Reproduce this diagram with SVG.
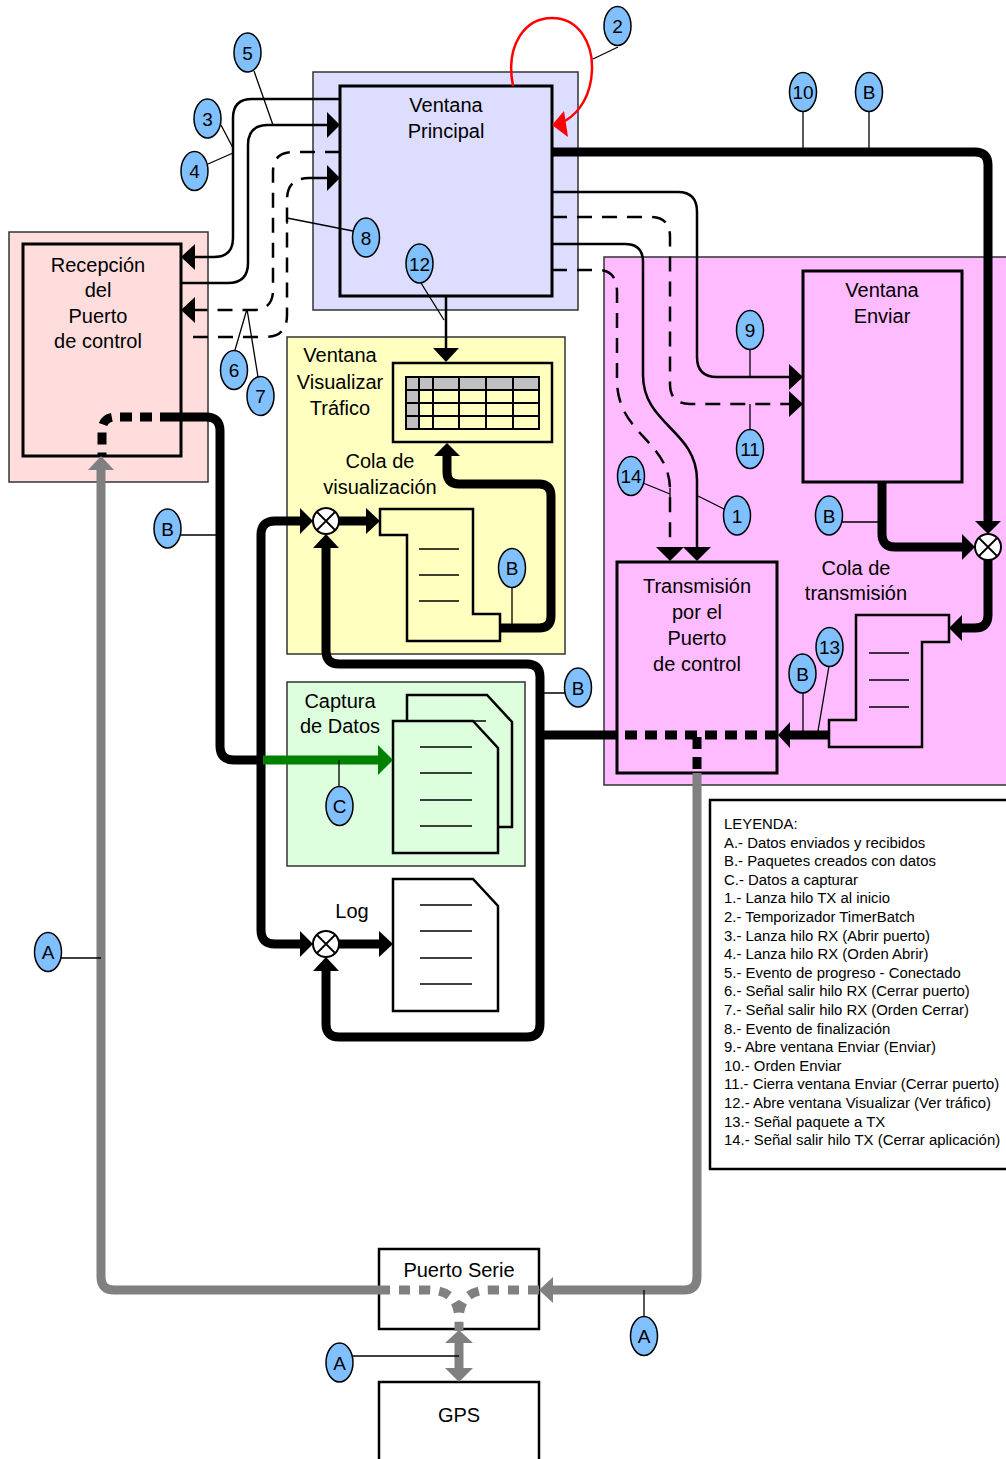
<svg xmlns="http://www.w3.org/2000/svg" width="1006" height="1459" viewBox="0 0 1006 1459">
<style>
text{font-family:"Liberation Sans",Arial,sans-serif;fill:#000}
.lbl{font-size:20px;text-anchor:middle}
.co{fill:#80c0ff;stroke:#000;stroke-width:1.5}
.cot{font-size:19px;text-anchor:middle}
.lead{stroke:#000;stroke-width:1.3;fill:none}
.cont{stroke:#333;stroke-width:1.5}
.box{stroke:#000;stroke-width:3}
.thin{stroke:#000;stroke-width:2.5;fill:none}
.dash{stroke:#000;stroke-width:2.5;fill:none;stroke-dasharray:15 10}
.thick{stroke:#000;stroke-width:9;fill:none}
.dot{stroke:#000;stroke-width:9;fill:none;stroke-dasharray:12 8}
.gray{stroke:#808080;stroke-width:9;fill:none}
.gdot{stroke:#808080;stroke-width:9;fill:none;stroke-dasharray:11 9}
.ah{fill:#000}
.gah{fill:#808080}
.leg{font-size:14.9px}
.doc path{stroke:#000;stroke-width:2.5}
.doc line{stroke:#000;stroke-width:1.5}
</style>
<defs>
<g id="xor"><circle r="13" fill="#fff" stroke="#000" stroke-width="2"/><path d="M-9,-9 L9,9 M-9,9 L9,-9" stroke="#000" stroke-width="1.8"/></g>
<g id="doc" class="doc"><path d="M0,0 L80,0 L105,27 L105,132 L0,132 Z"/><line x1="27" y1="26" x2="79" y2="26"/><line x1="27" y1="52" x2="79" y2="52"/><line x1="27" y1="79" x2="79" y2="79"/><line x1="27" y1="105" x2="79" y2="105"/></g>
</defs>

<!-- containers -->
<g id="cont-principal"><rect x="313" y="72" width="265" height="238" fill="#ddddff" class="cont"/></g>
<g id="cont-recepcion"><rect x="9" y="232" width="199" height="250" fill="#ffdddd" class="cont"/></g>
<g id="cont-visualizar"><rect x="287" y="337" width="278" height="317" fill="#ffffc0" class="cont"/></g>
<g id="cont-captura"><rect x="287" y="682" width="238" height="184" fill="#ddffdd" class="cont"/></g>
<g id="cont-transmision"><rect x="604" y="257" width="410" height="528" fill="#ffbbff" class="cont"/></g>

<!-- nodes -->
<g id="ventana-principal"><rect x="340" y="86" width="212" height="210" fill="#ddddff" class="box"/>
<text class="lbl" x="446" y="112">Ventana</text><text class="lbl" x="446" y="138">Principal</text></g>

<g id="recepcion"><rect x="23" y="244" width="158" height="212" fill="#ffdddd" class="box"/>
<text class="lbl" x="98" y="272">Recepción</text><text class="lbl" x="98" y="297">del</text><text class="lbl" x="98" y="323">Puerto</text><text class="lbl" x="98" y="348">de control</text></g>

<g id="ventana-visualizar"><text class="lbl" x="340" y="362">Ventana</text><text class="lbl" x="340" y="389">Visualizar</text><text class="lbl" x="340" y="415">Tráfico</text>
<rect x="393" y="363" width="159" height="79" fill="#ffffc0" stroke="#000" stroke-width="2.5"/>
<rect x="406" y="377" width="133" height="13" fill="#c0c0c0"/><rect x="406" y="390" width="13" height="39" fill="#c0c0c0"/>
<g stroke="#000" stroke-width="2" fill="none"><rect x="406" y="377" width="133" height="52"/>
<path d="M406,390 H539 M406,403 H539 M406,416 H539 M419,377 V429 M433,377 V429 M459,377 V429 M486,377 V429 M513,377 V429"/></g></g>

<g id="cola-visualizacion"><text class="lbl" x="380" y="468">Cola de</text><text class="lbl" x="380" y="494">visualización</text>
<path d="M380,509 L473,509 L473,614 L500,614 L500,641 L407,641 L407,535 L380,535 Z" fill="#ffffc0" stroke="#000" stroke-width="2.5"/>
<path d="M419,549 H459 M419,575 H459 M419,601 H459" stroke="#000" stroke-width="1.5"/></g>

<g id="captura"><text class="lbl" x="340" y="708">Captura</text><text class="lbl" x="340" y="733">de Datos</text>
<use href="#doc" x="407" y="695" fill="#ddffdd"/><use href="#doc" x="393" y="721" fill="#ddffdd"/></g>

<g id="log"><text class="lbl" x="352" y="918">Log</text><use href="#doc" x="393" y="879" fill="#fff"/></g>

<g id="ventana-enviar"><rect x="803" y="271" width="159" height="211" fill="#ffbbff" class="box"/>
<text class="lbl" x="882" y="297">Ventana</text><text class="lbl" x="882" y="323">Enviar</text></g>

<g id="cola-transmision"><text class="lbl" x="856" y="575">Cola de</text><text class="lbl" x="856" y="600">transmisión</text>
<path d="M856,615 L949,615 L949,642 L922,642 L922,747 L829,747 L829,720 L856,720 Z" fill="#ffbbff" stroke="#000" stroke-width="2.5"/>
<path d="M869,653 H909 M869,680 H909 M869,707 H909" stroke="#000" stroke-width="1.5"/></g>

<g id="transmision"><rect x="617" y="562" width="160" height="211" fill="#ffbbff" class="box"/>
<text class="lbl" x="697" y="593">Transmisión</text><text class="lbl" x="697" y="619">por el</text><text class="lbl" x="697" y="645">Puerto</text><text class="lbl" x="697" y="671">de control</text></g>

<g id="puerto-serie"><rect x="379" y="1249" width="160" height="80" fill="#fff" stroke="#000" stroke-width="2.5"/>
<text class="lbl" x="459" y="1277">Puerto Serie</text></g>

<g id="gps"><rect x="379" y="1382" width="160" height="90" fill="#fff" stroke="#000" stroke-width="2.5"/>
<text class="lbl" x="459" y="1422">GPS</text></g>

<g id="leyenda"><rect x="710" y="800" width="310" height="369" fill="#fff" stroke="#000" stroke-width="2.5"/>
<text class="leg" x="724" y="829">LEYENDA:<tspan x="724" dy="18.6">A.- Datos enviados y recibidos</tspan><tspan x="724" dy="18.6">B.- Paquetes creados con datos</tspan><tspan x="724" dy="18.6">C.- Datos a capturar</tspan><tspan x="724" dy="18.6">1.- Lanza hilo TX al inicio</tspan><tspan x="724" dy="18.6">2.- Temporizador TimerBatch</tspan><tspan x="724" dy="18.6">3.- Lanza hilo RX (Abrir puerto)</tspan><tspan x="724" dy="18.6">4.- Lanza hilo RX (Orden Abrir)</tspan><tspan x="724" dy="18.6">5.- Evento de progreso - Conectado</tspan><tspan x="724" dy="18.6">6.- Señal salir hilo RX (Cerrar puerto)</tspan><tspan x="724" dy="18.6">7.- Señal salir hilo RX (Orden Cerrar)</tspan><tspan x="724" dy="18.6">8.- Evento de finalización</tspan><tspan x="724" dy="18.6">9.- Abre ventana Enviar (Enviar)</tspan><tspan x="724" dy="18.6">10.- Orden Enviar</tspan><tspan x="724" dy="18.6">11.- Cierra ventana Enviar (Cerrar puerto)</tspan><tspan x="724" dy="18.6">12.- Abre ventana Visualizar (Ver tráfico)</tspan><tspan x="724" dy="18.6">13.- Señal paquete a TX</tspan><tspan x="724" dy="18.6">14.- Señal salir hilo TX (Cerrar aplicación)</tspan></text></g>

<!-- connectors -->
<g id="connectors">
<path class="gray" d="M379,1290 L114,1290 Q101,1290 101,1277 L101,469"/>
<polygon class="gah" points="101,456 88,470 114,470"/>
<path class="gray" d="M697,773 L697,1277 Q697,1290 684,1290 L552,1290"/>
<polygon class="gah" points="539,1290 553,1277 553,1303"/>
<path class="gdot" d="M379,1290 L428,1290 Q459,1290 459,1320 L459,1331 M539,1290 L490,1290 Q459,1290 459,1320"/>
<path class="gray" d="M459,1342 L459,1369"/>
<polygon class="gah" points="459,1330 445,1343 473,1343"/>
<polygon class="gah" points="459,1382 445,1368 473,1368"/>

<path class="thin" d="M340,99 L252,99 Q233,99 233,118 L233,238 Q233,257 214,257 L194,257"/>
<polygon class="ah" points="181,257 195,244 195,270"/>
<path class="thin" d="M181,283 L228,283 Q248,283 248,263 L248,145 Q248,125 268,125 L328,125"/>
<polygon class="ah" points="340,125 327,112 327,138"/>
<path class="dash" d="M340,152 L293,152 Q273,152 273,172 L273,290 Q273,310 253,310 L195,310"/>
<polygon class="ah" points="181,310 195,297 195,323"/>
<path class="dash" d="M193,337 L265,337 Q287,337 287,315 L287,200 Q287,178 309,178 L313,178"/>
<path class="thin" d="M313,178 L328,178"/>
<polygon class="ah" points="340,178 327,165 327,191"/>
<path d="M513,86 C505,45 525,18 552,18 C580,18 593,45 592,70 C591,95 580,112 565,121" fill="none" stroke="#f00" stroke-width="2.5"/>
<polygon points="552,125 564,111 568,137" fill="#f00"/>
<path class="thin" d="M446,297 L446,349"/>
<polygon class="ah" points="446,362 433,348 459,348"/>
<path class="thick" d="M552,152 L975,152 Q988,152 988,165 L988,522"/>
<polygon class="ah" points="988,534 975,521 1001,521"/>
<path class="thin" d="M552,192 L678,192 Q697,192 697,212 L697,357 Q697,377 717,377 L790,377"/>
<polygon class="ah" points="803,377 789,364 789,390"/>
<path class="dash" d="M552,217 L651,217 Q670,217 670,237 L670,384 Q670,404 690,404 L790,404"/>
<polygon class="ah" points="803,404 789,391 789,417"/>
<path class="thin" d="M552,244 L625,244 Q643,244 643,262 L643,375 C643,425 697,430 697,480 L697,548"/>
<polygon class="ah" points="697,561 683,547 711,547"/>
<path class="dash" d="M552,270 L598,270 Q617,270 617,292 L617,380 C617,435 670,440 670,490 L670,548"/>
<polygon class="ah" points="670,561 656,547 684,547"/>
<path class="thick" d="M882,482 L882,534 Q882,547 895,547 L963,547"/>
<polygon class="ah" points="975,547 962,534 962,560"/>
<use href="#xor" x="988" y="547"/>
<path class="thick" d="M988,560 L988,615 Q988,628 975,628 L961,628"/>
<polygon class="ah" points="949,628 962,615 962,641"/>
<path class="thick" d="M829,735 L789,735"/>
<polygon class="ah" points="778,735 790,722 790,748"/>
<path class="dot" d="M777,735 L617,735 M697,737 L697,773"/>
<path class="thick" d="M617,735 L540,735"/>
<path class="thick" d="M540,735 L540,677 Q540,664 527,664 L339,664 Q326,664 326,651 L326,547"/>
<polygon class="ah" points="326,534 313,548 339,548"/>
<path class="thick" d="M540,735 L540,1024 Q540,1037 527,1037 L339,1037 Q326,1037 326,1024 L326,970"/>
<polygon class="ah" points="326,957 313,971 339,971"/>
<path class="dot" d="M172,417 L116,417 Q102,417 102,431 L102,456"/>
<path class="thick" d="M172,417 L206,417 Q220,417 220,431 L220,746 Q220,760 234,760 L265,760"/>
<path class="thick" d="M301,521 L275,521 Q261,521 261,535 L261,930 Q261,944 275,944 L301,944"/>
<polygon class="ah" points="313,521 300,508 300,534"/>
<polygon class="ah" points="313,944 300,931 300,957"/>
<path d="M263,760 L380,760" stroke="#008000" stroke-width="9" fill="none"/>
<polygon points="393,760 378,745 378,775" fill="#008000"/>
<use href="#xor" x="326" y="521"/>
<path class="thick" d="M339,521 L367,521"/>
<polygon class="ah" points="380,521 366,508 366,534"/>
<use href="#xor" x="326" y="944"/>
<path class="thick" d="M339,944 L380,944"/>
<polygon class="ah" points="393,944 379,931 379,957"/>
<path class="thick" d="M500,628 L539,628 Q551,628 551,616 L551,496 Q551,484 539,484 L459,484 Q447,484 447,472 L447,455"/>
<polygon class="ah" points="447,443 434,456 460,456"/>
</g>

<!-- callouts -->
<g id="callouts">
<path class="lead" d="M254,71 L273,125 M221,125 L233,148 M208,164 L233,153 M287,213 L287,224 M287,218 L353,231 M593,59 L618,47 M421,283 L444,320 M247,309 L235,350 M247,309 L258,377 M803,111 L803,151 M869,111 L869,151 M750,349 L750,377 M750,404 L750,430 M643,483 L670,494 M670,488 L670,500 M698,496 L724,509 M842,522 L882,522 M181,535 L220,535 M512,587 L512,627 M829,666 L818,731 M803,693 L803,731 M543,693 L565,693 M339,760 L339,787 M61,958 L101,958 M644,1290 L644,1317 M353,1356 L459,1356"/>
<g id="c5"><ellipse class="co" cx="247.5" cy="52.5" rx="13.5" ry="19.5"/><text class="cot" x="247.5" y="59.5">5</text></g>
<g id="c3"><ellipse class="co" cx="207.5" cy="118.5" rx="13.5" ry="19.5"/><text class="cot" x="207.5" y="125.5">3</text></g>
<g id="c4"><ellipse class="co" cx="194.5" cy="171" rx="13.5" ry="19.5"/><text class="cot" x="194.5" y="178">4</text></g>
<g id="c2"><ellipse class="co" cx="617.5" cy="26" rx="13.5" ry="19.5"/><text class="cot" x="617.5" y="33">2</text></g>
<g id="c8"><ellipse class="co" cx="366" cy="237.5" rx="13.5" ry="19.5"/><text class="cot" x="366" y="244.5">8</text></g>
<g id="c12"><ellipse class="co" cx="419.5" cy="263.5" rx="13.5" ry="19.5"/><text class="cot" x="419.5" y="270.5">12</text></g>
<g id="c6"><ellipse class="co" cx="234" cy="370" rx="13.5" ry="19.5"/><text class="cot" x="234" y="377">6</text></g>
<g id="c7"><ellipse class="co" cx="260.5" cy="396" rx="13.5" ry="19.5"/><text class="cot" x="260.5" y="403">7</text></g>
<g id="c10"><ellipse class="co" cx="803" cy="92" rx="13.5" ry="19.5"/><text class="cot" x="803" y="99">10</text></g>
<g id="cB1"><ellipse class="co" cx="869" cy="92" rx="13.5" ry="19.5"/><text class="cot" x="869" y="99">B</text></g>
<g id="c9"><ellipse class="co" cx="750" cy="330" rx="13.5" ry="19.5"/><text class="cot" x="750" y="337">9</text></g>
<g id="c11"><ellipse class="co" cx="750" cy="449" rx="13.5" ry="19.5"/><text class="cot" x="750" y="456">11</text></g>
<g id="c14"><ellipse class="co" cx="631" cy="476" rx="13.5" ry="19.5"/><text class="cot" x="631" y="483">14</text></g>
<g id="c1"><ellipse class="co" cx="737" cy="515.5" rx="13.5" ry="19.5"/><text class="cot" x="737" y="522.5">1</text></g>
<g id="cB2"><ellipse class="co" cx="829" cy="515.5" rx="13.5" ry="19.5"/><text class="cot" x="829" y="522.5">B</text></g>
<g id="cB3"><ellipse class="co" cx="167.5" cy="528.5" rx="13.5" ry="19.5"/><text class="cot" x="167.5" y="535.5">B</text></g>
<g id="cB4"><ellipse class="co" cx="512" cy="568" rx="13.5" ry="19.5"/><text class="cot" x="512" y="575">B</text></g>
<g id="c13"><ellipse class="co" cx="829.5" cy="647" rx="13.5" ry="19.5"/><text class="cot" x="829.5" y="654">13</text></g>
<g id="cB5"><ellipse class="co" cx="802.5" cy="673.5" rx="13.5" ry="19.5"/><text class="cot" x="802.5" y="680.5">B</text></g>
<g id="cB6"><ellipse class="co" cx="578" cy="687.5" rx="13.5" ry="19.5"/><text class="cot" x="578" y="694.5">B</text></g>
<g id="cC"><ellipse class="co" cx="339.5" cy="806" rx="13.5" ry="19.5"/><text class="cot" x="339.5" y="813">C</text></g>
<g id="cA1"><ellipse class="co" cx="48" cy="952" rx="13.5" ry="19.5"/><text class="cot" x="48" y="959">A</text></g>
<g id="cA2"><ellipse class="co" cx="644" cy="1336" rx="13.5" ry="19.5"/><text class="cot" x="644" y="1343">A</text></g>
<g id="cA3"><ellipse class="co" cx="339.5" cy="1362.5" rx="13.5" ry="19.5"/><text class="cot" x="339.5" y="1369.5">A</text></g>
</g>
</svg>
